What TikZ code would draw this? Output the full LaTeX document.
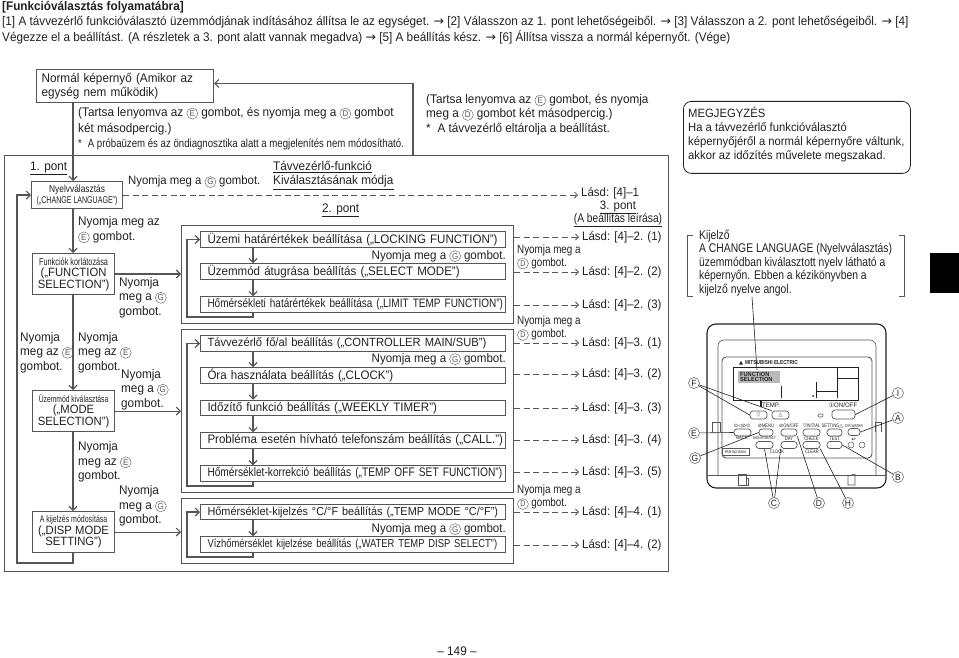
\documentclass[tikz,border=0pt]{standalone}
\usepackage{fontspec}
\usepackage{tikz}
\usetikzlibrary{arrows.meta, positioning, calc}
\setmainfont[FakeStretch=0.94]{Liberation Sans}
\newfontfamily\symfont{DejaVu Sans}
\newfontfamily\condfont[FakeStretch=0.82]{Liberation Sans}
\newfontfamily\narrowfont[FakeStretch=0.72]{Liberation Sans}
\definecolor{inkgray}{HTML}{231F20}
\definecolor{linegray}{HTML}{555555}
\newcommand{\cbtn}[1]{\tikz[baseline=(cbtnletter.base)]\node[circle, draw=linegray, line width=0.4pt, minimum size=11pt, text=linegray, font=\fontsize{8.5}{8.5}\selectfont] (cbtnletter) {#1};}

\begin{document}
\begin{tikzpicture}[
  x=1pt, y=-1pt,
  every node/.style={text=inkgray, inner sep=0pt},
  flow/.style={-{Straight Barb[length=4pt, width=8pt]}, line width=1.1pt, linegray},
  dashflow/.style={-{Straight Barb[length=3pt, width=6pt]}, line width=0.8pt, linegray, dash pattern=on 6pt off 3.5pt},
  lbl/.style={anchor=west, align=left, font=\fontsize{12.5}{14.4}\selectfont},
  lblsmall/.style={anchor=west, align=left, font=\condfont\fontsize{12}{13}\selectfont},
  under/.style={line width=0.8pt, inkgray},
  modebox/.style={draw=linegray, line width=1.1pt, align=center, minimum width=82pt, minimum height=41pt, font=\fontsize{12}{11.5}\selectfont},
  itembox/.style={draw=linegray, line width=1pt, anchor=west, minimum width=305pt, minimum height=15.5pt, align=left, text width=291pt, inner xsep=7pt, font=\fontsize{12.3}{14}\selectfont},
  grpbox/.style={draw=linegray, line width=1pt, anchor=north west, minimum width=332pt},
  lasd/.style={anchor=west, font=\fontsize{12.2}{14}\selectfont},
  panelbtn/.style={draw=linegray, line width=0.7pt, rounded corners=3pt, minimum height=7pt},
  tinytxt/.style={font=\condfont\fontsize{5}{5}\selectfont},
  callout/.style={circle, draw=linegray, line width=0.5pt, minimum size=11pt, font=\fontsize{9}{9}\selectfont},
  lead/.style={line width=0.6pt, inkgray}
]
\useasboundingbox (0,0) rectangle (959,658);

% Header
\node[lbl, font=\bfseries\fontsize{12.5}{14}\selectfont] (title) at (2,7) {[Funkcióválasztás folyamatábra]};
\node[lbl] (introa) at (2,22) {[1] A távvezérlő funkcióválasztó üzemmódjának indításához állítsa le az egységet. {\symfont→} [2] Válasszon az 1. pont lehetőségeiből. {\symfont→} [3] Válasszon a 2. pont lehetőségeiből. {\symfont→} [4]};
\node[lbl] (introb) at (2,37) {Végezze el a beállítást. (A részletek a 3. pont alatt vannak megadva) {\symfont→} [5] A beállítás kész. {\symfont→} [6] Állítsa vissza a normál képernyőt. (Vége)};

% Normal screen and the big frame
\node[draw=linegray, line width=1.1pt, anchor=north west, minimum width=177pt, minimum height=33pt, align=left, text width=167pt, inner xsep=5pt, font=\fontsize{12.5}{14.4}\selectfont] (boxnormal) at (36,69) {Normál képernyő (Amikor az\\egység nem működik)};
\node[draw=linegray, line width=1.2pt, anchor=north west, minimum width=664pt, minimum height=416pt] (frame) at (4,155) {};
\coordinate (xleft) at (73,0);
\coordinate (xstore) at (413,0);
\node[lbl] (holda) at (78,121) {(Tartsa lenyomva az \cbtn{E} gombot, és nyomja meg a \cbtn{D} gombot\\[1.2pt]két másodpercig.)};
\node[lblsmall, font=\condfont\fontsize{11.75}{13}\selectfont] (notea) at (78,144) {*\; A próbaüzem és az öndiagnosztika alatt a megjelenítés nem módosítható.};
\node[lbl] (holdb) at (426,114.5) {(Tartsa lenyomva az \cbtn{E} gombot, és nyomja\\meg a \cbtn{D} gombot két másodpercig.)\\*\; A távvezérlő eltárolja a beállítást.};
\draw[flow] (frame.north -| xstore) -- ([yshift=2.5pt]boxnormal.east -| xstore) -- ([yshift=2.5pt]boxnormal.east);

% Step 1 column
\node[lbl] (ponta) at (30,167) {1. pont};
\draw[under] ([yshift=-2pt]ponta.south west) -- ([yshift=-2pt]ponta.south east);
\node[modebox, minimum width=91pt, minimum height=27pt, anchor=north west, font=\fontsize{10.2}{10.5}\selectfont] (boxlang) at (31,181) {{\condfont Nyelvválasztás}\\{\narrowfont\fontsize{9.8}{10.5}\selectfont(„CHANGE LANGUAGE”)}};
\node[modebox, anchor=north west] (boxfunc) at (32,253) {{\narrowfont\fontsize{10.2}{11}\selectfont Funkciók korlátozása}\\(„FUNCTION\\SELECTION”)};
\node[modebox, anchor=north west] (boxmode) at (32,390) {{\narrowfont\fontsize{9.4}{11}\selectfont Üzemmód kiválasztása}\\(„MODE\\SELECTION”)};
\node[modebox, anchor=north west] (boxdisp) at (32,511) {{\narrowfont\fontsize{9.7}{11}\selectfont A kijelzés módosítása}\\(„DISP MODE\\SETTING”)};
\coordinate (retlang) at (17,563);
\draw[flow] (boxnormal.south -| xleft) -- (boxlang.north -| xleft);
\draw[flow] (boxlang.south -| xleft) -- (boxfunc.north -| xleft);
\draw[flow] (boxfunc.south -| xleft) -- (boxmode.north -| xleft);
\draw[flow] (boxmode.south -| xleft) -- (boxdisp.north -| xleft);
\draw[flow] (boxdisp.south -| xleft) |- (retlang) |- (boxlang.west);

% Step 1 labels
\node[lbl, font=\fontsize{12.1}{14}\selectfont] (pushgo) at (128,182) {Nyomja meg a \cbtn{G} gombot.};
\node[lbl] (pushea) at (78,230) {Nyomja meg az\\\cbtn{E} gombot.};
\node[lbl] (pushga) at (119,297.5) {Nyomja\\meg a \cbtn{G}\\gombot.};
\node[lbl] (pusheb) at (20,352.5) {Nyomja\\meg az \cbtn{E}\\gombot.};
\node[lbl] (pushec) at (78,352.5) {Nyomja\\meg az \cbtn{E}\\gombot.};
\node[lbl] (pushgb) at (121,389.5) {Nyomja\\meg a \cbtn{G}\\gombot.};
\node[lbl] (pushed) at (78,462) {Nyomja\\meg az \cbtn{E}\\gombot.};
\node[lbl] (pushgc) at (119,506) {Nyomja\\meg a \cbtn{G}\\gombot.};
\node[lbl] (headfn) at (273,166) {Távvezérlő-funkció};
\node[lbl] (headmd) at (273,181) {Kiválasztásának módja};
\draw[under] ([yshift=-2pt]headfn.south west) -- ([yshift=-2pt]headfn.south east);
\draw[under] ([yshift=-2pt]headmd.south west) -- ([yshift=-2pt]headmd.south east);
\node[lbl] (pontb) at (322,209) {2. pont};
\draw[under] ([yshift=-2pt]pontb.south west) -- ([yshift=-2pt]pontb.south east);

% Step 2 groups
\node[grpbox, minimum height=98pt] (grpa) at (181,225) {};
\node[grpbox, minimum height=163pt] (grpb) at (181,329) {};
\node[grpbox, minimum height=65pt] (grpc) at (181,498) {};
\draw[flow] (boxfunc.east |- 0,274) -- (grpa.west |- 0,274);
\draw[flow] (boxmode.east) -- (grpb.west |- boxmode.east);
\draw[flow] (boxdisp.east) -- (grpc.west |- boxdisp.east);

% Items, first group
\coordinate (xitem) at (253,0);
\node[itembox] (boxlock) at (200,239.5) {\mbox{Üzemi határértékek beállítása („LOCKING FUNCTION”)}};
\node[itembox] (boxselect) at (200,271.5) {Üzemmód átugrása beállítás („SELECT MODE”)};
\node[itembox, font=\condfont\fontsize{12.2}{14}\selectfont] (boxlimit) at (200,304.5) {\mbox{Hőmérsékleti határértékek beállítása („LIMIT TEMP FUNCTION”)}};
\coordinate (reta) at (187,317);
\draw[flow] (boxlock.south -| xitem) -- (boxselect.north -| xitem);
\draw[flow] (boxselect.south -| xitem) -- (boxlimit.north -| xitem);
\draw[flow] (boxlimit.south -| xitem) |- (reta) |- (boxlock.west);
\node[lbl, anchor=east, font=\fontsize{12.3}{14}\selectfont] (pushia) at (506,256) {Nyomja meg a \cbtn{G} gombot.};

% Items, second group
\node[itembox, font=\fontsize{11.9}{14}\selectfont] (boxmain) at (200,343.5) {\mbox{Távvezérlő fő/al beállítás („CONTROLLER MAIN/SUB”)}};
\node[itembox] (boxclock) at (200,375.5) {Óra használata beállítás („CLOCK”)};
\node[itembox] (boxtimer) at (200,408) {Időzítő funkció beállítás („WEEKLY TIMER”)};
\node[itembox] (boxcall) at (200,440.5) {\mbox{Probléma esetén hívható telefonszám beállítás („CALL.”)}};
\node[itembox, font=\condfont\fontsize{12.4}{14}\selectfont] (boxoffset) at (200,473.5) {\mbox{Hőmérséklet-korrekció beállítás („TEMP OFF SET FUNCTION”)}};
\coordinate (retb) at (187,486);
\draw[flow] (boxmain.south -| xitem) -- (boxclock.north -| xitem);
\draw[flow] (boxclock.south -| xitem) -- (boxtimer.north -| xitem);
\draw[flow] (boxtimer.south -| xitem) -- (boxcall.north -| xitem);
\draw[flow] (boxcall.south -| xitem) -- (boxoffset.north -| xitem);
\draw[flow] (boxoffset.south -| xitem) |- (retb) |- (boxmain.west);
\node[lbl, anchor=east, font=\fontsize{12.3}{14}\selectfont] (pushib) at (506,359) {Nyomja meg a \cbtn{G} gombot.};

% Items, third group
\node[itembox, font=\fontsize{11.6}{14}\selectfont] (boxtemp) at (200,512) {\mbox{Hőmérséklet-kijelzés °C/°F beállítás („TEMP MODE °C/°F”)}};
\node[itembox, font=\condfont\fontsize{11.5}{14}\selectfont] (boxwater) at (200,544.5) {\mbox{Vízhőmérséklet kijelzése beállítás („WATER TEMP DISP SELECT”)}};
\coordinate (retc) at (187,557);
\draw[flow] (boxtemp.south -| xitem) -- (boxwater.north -| xitem);
\draw[flow] (boxwater.south -| xitem) |- (retc) |- (boxtemp.west);
\node[lbl, anchor=east, font=\fontsize{12.3}{14}\selectfont] (pushic) at (506,529) {Nyomja meg a \cbtn{G} gombot.};

% Step 3 column
\node[lasd] (lasdz) at (581,193) {Lásd: [4]--1};
\node[font=\fontsize{12.2}{14}\selectfont] (pontc) at (618,207) {3. pont};
\node[font=\condfont\fontsize{12.5}{14}\selectfont] (pontd) at (618,219) {(A beállítás leírása)};
\draw[under] ([yshift=-1pt]pontc.south west) -- ([yshift=-1pt]pontc.south east);
\draw[under] ([yshift=-1pt]pontd.south west) -- ([yshift=-1pt]pontd.south east);
\node[lasd] (lasda) at (582,237) {Lásd: [4]--2. (1)};
\node[lasd] (lasdb) at (582,272) {Lásd: [4]--2. (2)};
\node[lasd] (lasdc) at (582,305) {Lásd: [4]--2. (3)};
\node[lasd] (lasdd) at (582,343) {Lásd: [4]--3. (1)};
\node[lasd] (lasde) at (582,374) {Lásd: [4]--3. (2)};
\node[lasd] (lasdf) at (582,408) {Lásd: [4]--3. (3)};
\node[lasd] (lasdg) at (582,440) {Lásd: [4]--3. (4)};
\node[lasd] (lasdh) at (582,472) {Lásd: [4]--3. (5)};
\node[lasd] (lasdi) at (582,512) {Lásd: [4]--4. (1)};
\node[lasd] (lasdj) at (582,545) {Lásd: [4]--4. (2)};
\draw[dashflow, shorten >=3pt] (boxlang.east) -- (lasdz.west |- boxlang.east);
\draw[dashflow, shorten >=3pt] (grpa.east |- lasda.west) -- (lasda.west);
\draw[dashflow, shorten >=3pt] (grpa.east |- lasdb.west) -- (lasdb.west);
\draw[dashflow, shorten >=3pt] (grpa.east |- lasdc.west) -- (lasdc.west);
\draw[dashflow, shorten >=3pt] (grpb.east |- lasdd.west) -- (lasdd.west);
\draw[dashflow, shorten >=3pt] (grpb.east |- lasde.west) -- (lasde.west);
\draw[dashflow, shorten >=3pt] (grpb.east |- lasdf.west) -- (lasdf.west);
\draw[dashflow, shorten >=3pt] (grpb.east |- lasdg.west) -- (lasdg.west);
\draw[dashflow, shorten >=3pt] (grpb.east |- lasdh.west) -- (lasdh.west);
\draw[dashflow, shorten >=3pt] (grpc.east |- lasdi.west) -- (lasdi.west);
\draw[dashflow, shorten >=3pt] (grpc.east |- lasdj.west) -- (lasdj.west);
\node[lblsmall] (pushda) at (517,257) {Nyomja meg a\\\cbtn{D} gombot.};
\node[lblsmall] (pushdb) at (517,328.5) {Nyomja meg a\\\cbtn{D} gombot.};
\node[lblsmall] (pushdc) at (517,497.5) {Nyomja meg a\\\cbtn{D} gombot.};

% Note
\node[draw=inkgray, line width=0.8pt, rounded corners=8pt, anchor=north west, minimum width=227pt, minimum height=72pt] (boxnote) at (683,101) {};
\node[lbl, font=\fontsize{12}{14.3}\selectfont] (notetext) at (688,134.5) {MEGJEGYZÉS\\Ha a távvezérlő funkcióválasztó\\képernyőjéről a normál képernyőre váltunk,\\akkor az időzítés művelete megszakad.};

% Display note with brackets
\node[lbl, font=\condfont\fontsize{12.6}{13.6}\selectfont] (dispnote) at (699,263) {Kijelző\\A CHANGE LANGUAGE (Nyelvválasztás)\\üzemmódban kiválasztott nyelv látható a\\képernyőn. Ebben a kézikönyvben a\\kijelző nyelve angol.};
\draw[line width=0.6pt, linegray] (693,235) -- (687,235) -- (687,296) -- (693,296);
\draw[line width=0.6pt, linegray] (899,235) -- (904,235) -- (904,296) -- (899,296);
\coordinate (leada) at (752,297);
\coordinate (leadb) at (757,370);
\draw[lead] (leada) -- (leadb);

% Black tab
\fill[black] (930,253) rectangle (959,293);

% Remote controller
\draw[line width=1.1pt, inkgray, rounded corners=9pt] (707,324) rectangle (886,488);
\draw[line width=0.6pt, linegray, rounded corners=6pt] (718,475) -- (718,340) -- (876,340) -- (876,475);
\draw[line width=0.6pt, linegray] (707,475) -- (886,475);
\draw[line width=0.9pt, linegray, rounded corners=4pt] (722,357) rectangle (872,458);
\draw[line width=0.6pt, linegray] (712,432) -- (712,422) -- (720,422) -- (720,432);
\draw[line width=0.6pt, linegray] (875,432) -- (875,422) -- (881,422) -- (881,432);
\draw[line width=0.6pt, linegray] (738,485) -- (738,474) -- (746,474) -- (746,485) -- cycle (746,478) -- (748,478) -- (748,485) -- (746,485);
\draw[line width=0.6pt, linegray] (848,485) -- (848,476) -- (855,474) -- (855,485) -- cycle;
\draw[line width=0.8pt, inkgray] (733,367) rectangle (858,400);
\fill[gray!55] (738,371) rectangle (780,383);
\node[font=\bfseries\fontsize{5.8}{5.8}\selectfont, anchor=west] (logo) at (745,363) {\condfont MITSUBISHI ELECTRIC};
\fill[inkgray] (739,364.5) -- (741,361) -- (743,364.5) -- cycle;
\node[font=\bfseries\fontsize{6}{5.8}\selectfont, align=left, anchor=west] (lcdtext) at (740,377) {FUNCTION\\SELECTION};
\draw[line width=0.6pt, inkgray] (781,386) -- (781,398);
\draw[line width=0.6pt, inkgray] (816,382) -- (816,398);
\draw[line width=0.6pt, inkgray] (816,391) -- (837,391);
\draw[line width=0.6pt, inkgray] (837,367) -- (837,398);
\draw[line width=0.6pt, inkgray] (837,378) -- (858,378);
\fill[inkgray] (813,396) circle (1pt);
\fill[inkgray] (760,401) rectangle (761.5,406.5);
\node[font=\fontsize{6.5}{6.5}\selectfont] (lbltemp) at (771,405) {TEMP.};
\node[font=\fontsize{6.5}{6.5}\selectfont] (lblonoff) at (843,405) {{\symfont\fontsize{6}{6}\selectfont ①}ON/OFF};
\node[panelbtn, minimum width=17pt, minimum height=8pt, font=\fontsize{5}{5}\selectfont] (btndown) at (758.5,415) {{\symfont ▽}};
\node[panelbtn, minimum width=17pt, minimum height=8pt, font=\fontsize{5}{5}\selectfont] (btnup) at (780.5,415) {{\symfont △}};
\draw[line width=0.6pt, linegray, rounded corners=1pt] (818,414) rectangle (823,417);
\node[panelbtn, minimum width=23pt, minimum height=9pt] (btnpower) at (843.5,414.5) {};

% Panel buttons
\node[panelbtn, minimum width=17pt] (btnback) at (742.5,432.5) {};
\node[panelbtn, minimum width=14pt] (btnmenu) at (766,432.5) {};
\node[panelbtn, minimum width=16pt] (btnoff) at (789,432.5) {};
\node[panelbtn, minimum width=17pt] (btninita) at (811.5,432.5) {};
\node[panelbtn, minimum width=15pt] (btninitb) at (834.5,432.5) {};
\node[panelbtn, minimum width=12pt] (btnwater) at (854,432) {};
\node[panelbtn, minimum width=17pt] (btnmon) at (764.5,445) {};
\node[panelbtn, minimum width=16pt] (btnday) at (789,445) {};
\node[panelbtn, minimum width=17pt] (btncheck) at (811.5,445) {};
\node[panelbtn, minimum width=15pt] (btntest) at (834.5,445) {};
\draw[line width=0.5pt, linegray] (851,445) circle (3pt);
\draw[line width=0.5pt, linegray] (862,445) circle (3pt);
\node[tinytxt, font=\fontsize{5}{5}\selectfont] (icons) at (742,426) {{\symfont ⊙◁⊘⊙}};
\node[tinytxt] (lblmenu) at (766,426) {{\symfont ⊘}MENU};
\node[tinytxt] (lbloff) at (789,426) {{\symfont ⊘}ON/OFF};
\node[tinytxt] (lblinit) at (823,426) {{\symfont ▽}INITIAL SETTING{\symfont △}};
\node[tinytxt, font=\condfont\fontsize{4}{4}\selectfont] (lblwater) at (854,426.5) {CIR.WATER};
\node[tinytxt] (lblback) at (742,438) {BACK};
\node[tinytxt, font=\condfont\fontsize{4}{4}\selectfont] (lblmon) at (764.5,438.5) {MONITOR/SET};
\node[tinytxt] (lblday) at (789,438.5) {DAY};
\node[tinytxt] (lblcheck) at (811.5,438.5) {CHECK};
\node[tinytxt] (lbltest) at (834.5,438.5) {TEST};
\node[tinytxt] (lblclock) at (777,451.5) {CLOCK};
\node[tinytxt] (lblclear) at (812,451.5) {CLEAR};
\node[tinytxt, font=\condfont\fontsize{4}{4}\selectfont, fill=white, draw=linegray, line width=0.4pt, minimum width=27pt, minimum height=7pt] (lblpar) at (735.5,452) {PAR-W21MAA};
\node[font=\fontsize{6}{6}\selectfont] (lblenter) at (854,439.5) {{\symfont ↵}};

% Callouts
\node[callout] (callf) at (694,383) {F};
\node[callout] (calle) at (694,433) {E};
\node[callout] (callg) at (695,458) {G};
\node[callout] (calli) at (898,393) {I};
\node[callout] (calla) at (898,418) {A};
\node[callout] (callb) at (898,477) {B};
\node[callout] (callc) at (774,503) {C};
\node[callout] (calld) at (819,503) {D};
\node[callout] (callh) at (848,503) {H};
\draw[lead] (callf) -- (btndown.west);
\draw[lead] (callf) -- (btnup.north west);
\draw[lead] (calle) -- (btnback.west);
\draw[lead] (callg) -- (btnmenu.west);
\draw[lead] (calli) -- (btnpower.east);
\draw[lead] (calla) -- (btnwater.east);
\draw[lead] (callb) -- (btntest.east);
\draw[lead] (callc) -- (btnmon.south);
\draw[lead] (callc) -- (btnday.south west);
\draw[lead] (calld) -- (btnoff.south east);
\draw[lead] (callh) -- (btncheck.south east);

% Page number
\node[font=\fontsize{12.5}{14}\selectfont] (pagenum) at (457,651.5) {-- 149 --};

\end{tikzpicture}
\end{document}
